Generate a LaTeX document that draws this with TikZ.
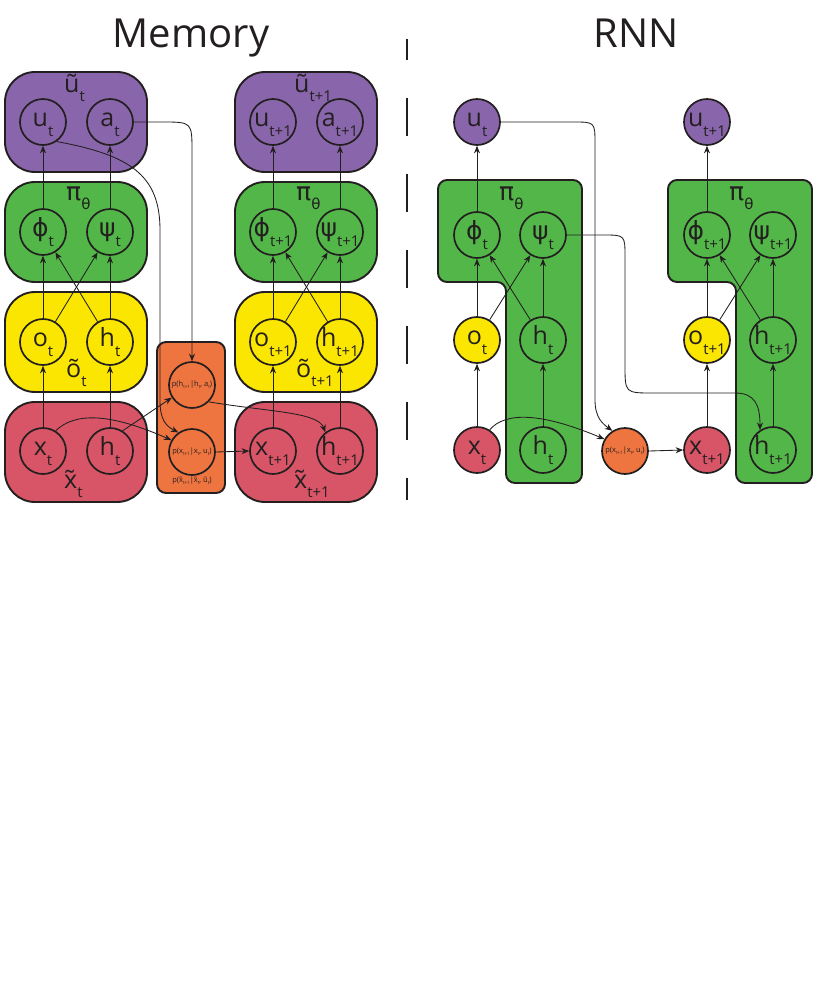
\documentclass[tikz,border=0pt]{standalone}
\usepackage{fontspec}
\setmainfont{Open Sans}
\newfontfamily\grk{DejaVu Sans}
\usetikzlibrary{arrows.meta}
\definecolor{cpur}{HTML}{8966AB}
\definecolor{cgrn}{HTML}{52B748}
\definecolor{cyel}{HTML}{FAE600}
\definecolor{cred}{HTML}{D75566}
\definecolor{corg}{HTML}{EE7440}
\definecolor{cline}{HTML}{231F20}
\newcommand\lsb[1]{\raisebox{-9.5pt}{\fontsize{15}{15}\selectfont #1}}
\newcommand\osb[1]{\raisebox{-2pt}{\fontsize{4.5}{4.5}\selectfont #1}}
\newcommand\gr[1]{{\grk #1}}
\tikzset{
 mbox/.style={draw=cline, line width=1.9pt, rounded corners=30pt},
 rbox/.style={draw=cline, line width=1.9pt, rounded corners=9pt},
 circ/.style={circle, draw=cline, line width=1.7pt, minimum size=46pt, inner sep=0pt, font=\fontsize{25}{25}\selectfont, text height=12.5pt, text depth=3pt, text=cline},
 lbl/.style={inner sep=0pt, font=\fontsize{25}{25}\selectfont, text=cline},
 ocirc/.style={circle, draw=cline, fill=corg, line width=1.7pt, minimum size=46pt, inner sep=0pt, font=\fontsize{7.5}{7.5}\selectfont, text=cline},
 arr/.style={draw=cline, line width=0.85pt, -{Stealth[length=7.5pt,width=6pt]}},
}
\newcommand\memcol[3]{%
 \begin{scope}[shift={(#1,0)}]
 \filldraw[mbox, fill=cpur] (5,72) rectangle (147,172);
 \filldraw[mbox, fill=cgrn] (5,182) rectangle (147,282);
 \filldraw[mbox, fill=cyel] (5,292) rectangle (147,392);
 \filldraw[mbox, fill=cred] (5,402) rectangle (147,502);
 \node[circ] (u#2) at (43,122) {u\lsb{#3}};
 \node[circ] (a#2) at (110,122) {a\lsb{#3}};
 \node[circ] (f#2) at (43,232) {\gr{ϕ}\lsb{#3}};
 \node[circ] (s#2) at (110,232) {\gr{ψ}\lsb{#3}};
 \node[circ] (o#2) at (43,342) {o\lsb{#3}};
 \node[circ] (hy#2) at (110,342) {h\lsb{#3}};
 \node[circ] (x#2) at (43,451) {x\lsb{#3}};
 \node[circ] (hr#2) at (110,451) {h\lsb{#3}};
 \node[lbl, anchor=base west] (lu#2) at (64,92) {ũ\lsb{#3}};
 \node[lbl, anchor=base west] (lp#2) at (66,200) {\gr{π}\lsb{\grk θ}};
 \node[lbl, anchor=base west] (lo#2) at (66,377) {õ\lsb{#3}};
 \node[lbl, anchor=base west] (lx#2) at (64,488) {x̃\lsb{#3}};
 \draw[arr] (x#2) -- (o#2);
 \draw[arr] (hr#2) -- (hy#2);
 \draw[arr] (o#2) -- (f#2);
 \draw[arr] (o#2) -- (s#2);
 \draw[arr] (hy#2) -- (f#2);
 \draw[arr] (hy#2) -- (s#2);
 \draw[arr] (f#2) -- (u#2);
 \draw[arr] (s#2) -- (a#2);
 \end{scope}}
\begin{document}
\begin{tikzpicture}[x=1pt,y=-1pt]
\useasboundingbox (0,0) rectangle (829,1005);
\fill[white] (0,0) rectangle (829,1005);
% titles
\node[anchor=base, inner sep=0pt, font=\fontsize{40}{40}\selectfont, text=cline] (tmem) at (191,47) {Memory};
\node[anchor=base, inner sep=0pt, font=\fontsize{40}{40}\selectfont, text=cline] (trnn) at (636,47) {RNN};
% divider
\draw[cline, line width=1.7pt, dash pattern=on 38pt off 38pt, dash phase=17pt] (407,39) -- (407,500);
% ---------------- Memory ----------------
\memcol{0}{A}{t}
\memcol{230}{B}{t+1}
\filldraw[rbox, fill=corg] (157,342) rectangle (225,493);
\node[ocirc] (ph) at (192,385) {p(h\osb{t+1}|h\osb{t}, a\osb{t})};
\node[ocirc] (px) at (192,452) {p(x\osb{t+1}|x\osb{t}, u\osb{t})};
\node[inner sep=0pt, font=\fontsize{7.5}{7.5}\selectfont, text=cline] (pcap) at (192,481) {p(x̃\osb{t+1}|x̃\osb{t}, ũ\osb{t})};
\draw[arr] (aA.east) -- (162,122) .. controls (192,122) .. (192,152) -- (ph.north);
\draw[arr] (uA.-55) .. controls (130,155) and (160,175) .. (160,230) -- (160,400) .. controls (160,420) and (166,426) .. (px.125);
\draw[arr] (hrA.58) -- (ph.212);
\draw[arr] (xA.58) .. controls (75,412) and (110,413) .. (px.150);
\draw[arr] (ph.-45) .. controls (270,412) and (318,412) .. (hrB.128);
\draw[arr] (px.east) -- (xB.west);
% ---------------- RNN ----------------
\filldraw[rbox, fill=cgrn] (438,180) -- (582,180) -- (582,483) -- (506,483) -- (506,282) -- (438,282) -- cycle;
\filldraw[rbox, fill=cgrn] (668,180) -- (812,180) -- (812,483) -- (736,483) -- (736,282) -- (668,282) -- cycle;
\node[lbl, anchor=base west] (rpA) at (499,200) {\gr{π}\lsb{\grk θ}};
\node[lbl, anchor=base west] (rpB) at (729,200) {\gr{π}\lsb{\grk θ}};
\node[circ, fill=cpur] (ruA) at (477,122) {u\lsb{t}};
\node[circ] (rfA) at (477,235) {\gr{ϕ}\lsb{t}};
\node[circ] (rsA) at (543,235) {\gr{ψ}\lsb{t}};
\node[circ, fill=cyel] (roA) at (477,340) {o\lsb{t}};
\node[circ] (rhmA) at (543,340) {h\lsb{t}};
\node[circ, fill=cred] (rxA) at (477,450) {x\lsb{t}};
\node[circ] (rhbA) at (543,450) {h\lsb{t}};
\node[circ, fill=cpur] (ruB) at (707,122) {u\lsb{t+1}};
\node[circ] (rfB) at (707,235) {\gr{ϕ}\lsb{t+1}};
\node[circ] (rsB) at (773,235) {\gr{ψ}\lsb{t+1}};
\node[circ, fill=cyel] (roB) at (707,340) {o\lsb{t+1}};
\node[circ] (rhmB) at (773,340) {h\lsb{t+1}};
\node[circ, fill=cred] (rxB) at (707,450) {x\lsb{t+1}};
\node[circ] (rhbB) at (773,450) {h\lsb{t+1}};
\node[ocirc] (rpo) at (625,451) {p(x\osb{t+1}|x\osb{t}, u\osb{t})};
\foreach \s in {A,B}{
 \draw[arr] (rx\s) -- (ro\s);
 \draw[arr] (rhb\s) -- (rhm\s);
 \draw[arr] (ro\s) -- (rf\s);
 \draw[arr] (ro\s) -- (rs\s);
 \draw[arr] (rhm\s) -- (rf\s);
 \draw[arr] (rhm\s) -- (rs\s);
 \draw[arr] (rf\s) -- (ru\s);
}
\draw[arr] (ruA.east) -- (573,122) .. controls (595,122) .. (595,144) -- (595,400) .. controls (595,418) and (603,424) .. (rpo.122);
\draw[arr] (rxA.58) .. controls (505,412) and (540,412) .. (rpo.150);
\draw[arr] (rsA.east) -- (603,235) .. controls (625,235) .. (625,257) -- (625,365) .. controls (625,393) .. (653,393) -- (735,393) .. controls (755,393) and (760,405) .. (rhbB.123);
\draw[arr] (rpo.east) -- (rxB.west);
\end{tikzpicture}
\end{document}
